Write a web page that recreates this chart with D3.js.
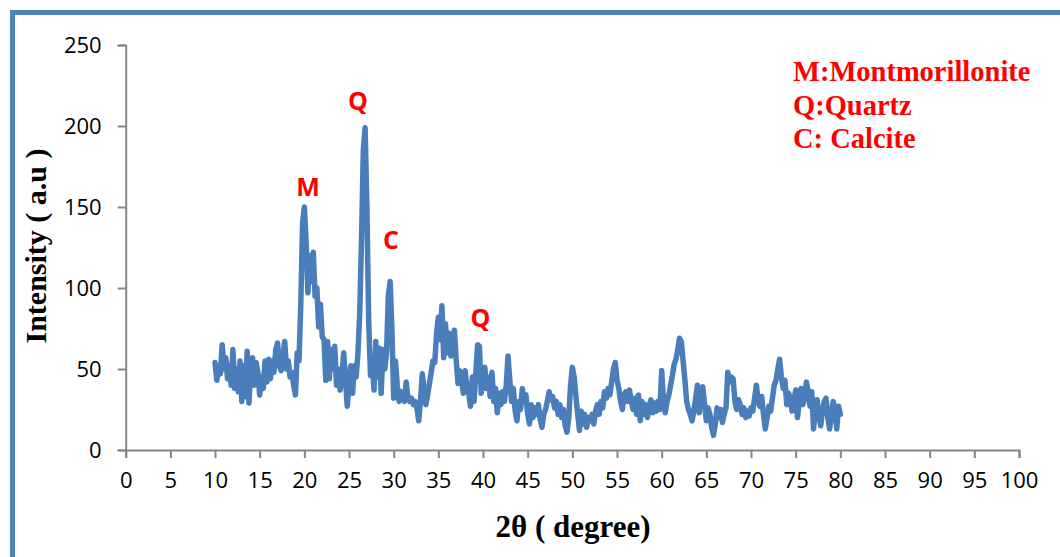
<!doctype html>
<html lang="en">
  <head>
    <meta charset="utf-8"/>
    <title>XRD pattern</title>
    <script src="https://d3js.org/d3.v7.min.js"></script>
    <style>
      body { margin: 0; background: #fff; }
      .axis path, .axis line { stroke: #868686; stroke-width: 2; }
      .axis text { font-family: "Open Sans", sans-serif; font-size: 22px; fill: #000; }
    </style>
  </head>
  <body>
    <div id="chart"></div>
    <script>
      // 2theta starts at 10 deg, one reading every 0.2 deg
      var thetaStart = 10;
      var thetaStep = 0.2;
      var intensity = [
        54, 43, 52, 47, 65, 50, 57, 44, 52, 40,   // 10.0 - 11.8
        62, 38, 50, 36, 55, 30, 52, 33, 61, 29,   // 12.0 - 13.8
        50, 57, 40, 54, 48, 34, 45, 38, 55, 42,   // 14.0 - 15.8
        56, 44, 55, 48, 62, 66, 52, 49, 58, 67,   // 16.0 - 17.8
        50, 55, 45, 48, 40, 34, 60, 55, 90, 140,  // 18.0 - 19.8
        150, 128, 97, 120, 104, 122, 95, 100, 76, 90,   // 20.0 - 21.8
        70, 68, 43, 67, 44, 62, 50, 64, 40, 50,   // 22.0 - 23.8
        37, 45, 60, 44, 27, 40, 52, 35, 52, 45,   // 24.0 - 25.8
        60, 85, 130, 185, 199, 150, 80, 46, 55, 37,  // 26.0 - 27.8
        67, 45, 63, 35, 62, 50, 60, 95, 104, 75,  // 28.0 - 29.8
        32, 55, 40, 30, 36, 33, 30, 42, 32, 30,   // 30.0 - 31.8
        32, 28, 30, 26, 18, 30, 47, 38, 28, 34,   // 32.0 - 33.8
        41, 48, 55, 54, 72, 82, 68, 89, 57, 78,   // 34.0 - 35.8
        60, 72, 58, 62, 74, 55, 41, 49, 44, 35,   // 36.0 - 37.8
        49, 38, 35, 27, 45, 30, 48, 65, 64, 35,   // 38.0 - 39.8
        45, 51, 38, 45, 33, 48, 30, 38, 23, 35,   // 40.0 - 41.8
        28, 36, 30, 40, 58, 43, 30, 38, 24, 18,   // 42.0 - 43.8
        30, 25, 38, 30, 34, 22, 16, 28, 20, 26,   // 44.0 - 45.8
        22, 28, 19, 14, 22, 25, 30, 36, 31, 33,   // 46.0 - 47.8
        26, 30, 22, 28, 20, 25, 15, 11, 20, 40,   // 48.0 - 49.8
        51, 45, 33, 22, 12, 24, 16, 22, 14, 20,   // 50.0 - 51.8
        18, 22, 16, 24, 28, 22, 30, 26, 36, 32,   // 52.0 - 53.8
        38, 34, 42, 50, 54, 43, 38, 30, 25, 34,   // 54.0 - 55.8
        36, 30, 37, 30, 25, 32, 22, 34, 18, 30,   // 56.0 - 57.8
        22, 28, 20, 27, 31, 23, 29, 24, 30, 25,   // 58.0 - 59.8
        49, 30, 23, 30, 34, 40, 46, 53, 56, 62,   // 60.0 - 61.8
        69, 67, 55, 43, 30, 25, 22, 18, 24, 32,   // 62.0 - 63.8
        40, 23, 35, 39, 28, 18, 26, 22, 14, 9,    // 64.0 - 65.8
        16, 26, 20, 25, 17, 22, 26, 48, 42, 45,   // 66.0 - 67.8
        44, 30, 25, 31, 28, 22, 26, 20, 24, 21,   // 68.0 - 69.8
        26, 24, 32, 40, 30, 27, 33, 22, 13, 20,   // 70.0 - 71.8
        27, 24, 32, 40, 43, 50, 56, 45, 38, 43,   // 72.0 - 73.8
        28, 35, 32, 24, 30, 37, 20, 30, 38, 28,   // 74.0 - 75.8
        32, 42, 36, 27, 36, 13, 25, 31, 22, 15,   // 76.0 - 77.8
        24, 30, 32, 20, 13, 22, 30, 25, 13, 27,   // 78.0 - 79.8
        22                                        // 80.0
      ];

      var xTicks = d3.range(0, 101, 5);
      var yTicks = [0, 50, 100, 150, 200, 250];

      // peak labels: letter, 2theta, intensity where the letter sits
      var peakLetters = ["M", "Q", "C", "Q"];
      var peakTheta = [20.4, 26.0, 29.7, 39.7];
      var peakLevel = [157, 210, 124, 76];

      var legendLines = ["M:Montmorillonite", "Q:Quartz", "C: Calcite"];

      var w = 1060;
      var h = 557;

      var dataset = intensity.map(function(v, i) {
        return { theta: thetaStart + i * thetaStep, value: v };
      });

      var xScale = d3.scaleLinear()
                     .domain([0, 100])
                     .range([125.7, 1019]);

      var yScale = d3.scaleLinear()
                     .domain([0, 250])
                     .range([450, 45]);

      var svg = d3.select("#chart")
                  .append("svg")
                  .attr("width", w)
                  .attr("height", h);

      svg.append("rect")
         .attr("width", w)
         .attr("height", h)
         .attr("fill", "#fff");

      // blue frame, cut off at right and bottom
      svg.append("rect")
         .attr("x", 12.5)
         .attr("y", 12.5)
         .attr("width", 1200)
         .attr("height", 700)
         .attr("fill", "none")
         .attr("stroke", "#4F81BD")
         .attr("stroke-width", 5);

      //Y axis
      var yAxis = d3.axisLeft(yScale)
                    .tickValues(yTicks)
                    .tickSizeOuter(0)
                    .tickSize(8)
                    .tickPadding(16);

      svg.append("g")
         .attr("class", "axis")
         .attr("transform", "translate(" + xScale(0) + ",0)")
         .call(yAxis);

      //X axis
      var xAxis = d3.axisBottom(xScale)
                    .tickValues(xTicks)
                    .tickSizeOuter(0)
                    .tickSize(8)
                    .tickPadding(14);

      svg.append("g")
         .attr("class", "axis")
         .attr("transform", "translate(0," + yScale(0) + ")")
         .call(xAxis);

      //pattern line
      var line = d3.line()
                   .x(function(d) { return xScale(d.theta); })
                   .y(function(d) { return yScale(d.value); });

      svg.append("path")
         .datum(dataset)
         .attr("d", line)
         .attr("fill", "none")
         .attr("stroke", "#4A7EBB")
         .attr("stroke-width", 5.5)
         .attr("stroke-linejoin", "round")
         .attr("stroke-linecap", "round");

      //peak letters
      svg.selectAll("text.peak")
         .data(peakLetters)
         .enter()
         .append("text")
         .attr("class", "peak")
         .attr("x", function(d, i) { return xScale(peakTheta[i]); })
         .attr("y", function(d, i) { return yScale(peakLevel[i]); })
         .attr("text-anchor", "middle")
         .attr("font-family", "'Open Sans', sans-serif")
         .attr("font-weight", "bold")
         .attr("font-size", "25px")
         .attr("fill", "#FF0000")
         .text(function(d) { return d; });

      //legend text
      svg.selectAll("text.legend")
         .data(legendLines)
         .enter()
         .append("text")
         .attr("class", "legend")
         .attr("x", 793)
         .attr("y", function(d, i) { return 81 + i * 33.5; })
         .attr("font-family", "'Liberation Serif', serif")
         .attr("font-weight", "bold")
         .attr("font-size", "28.5px")
         .attr("fill", "#FF0000")
         .text(function(d) { return d; });

      //axis titles
      svg.append("text")
         .attr("x", 573)
         .attr("y", 537)
         .attr("text-anchor", "middle")
         .attr("font-family", "'Liberation Serif', serif")
         .attr("font-weight", "bold")
         .attr("font-size", "31px")
         .text("2θ ( degree)");

      svg.append("text")
         .attr("transform", "translate(46,246) rotate(-90)")
         .attr("text-anchor", "middle")
         .attr("font-family", "'Liberation Serif', serif")
         .attr("font-weight", "bold")
         .attr("font-size", "30px")
         .text("Intensity ( a.u )");
    </script>
  </body>
</html>
